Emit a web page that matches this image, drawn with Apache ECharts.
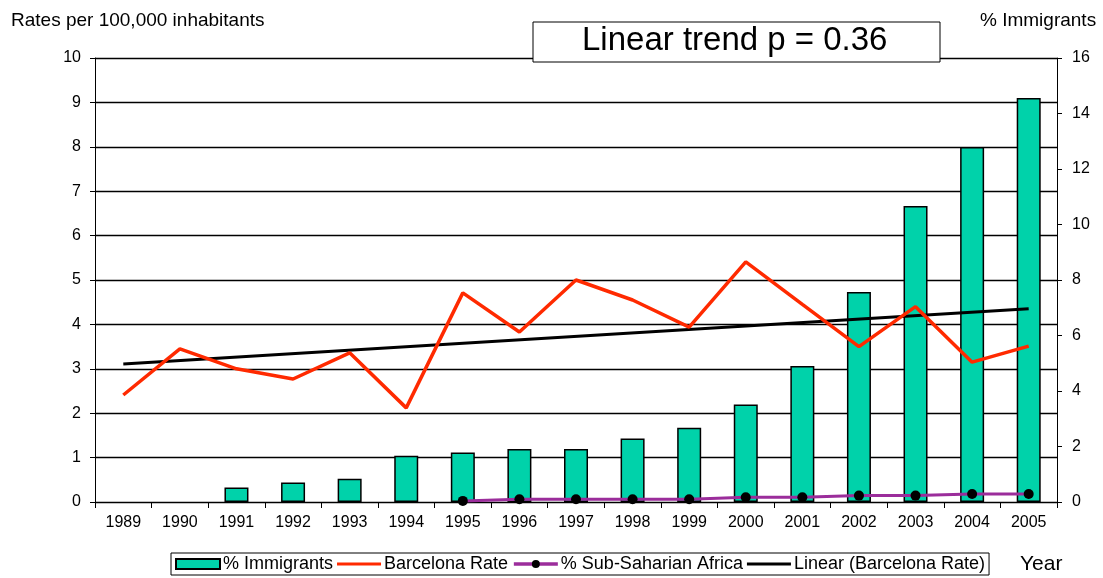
<!DOCTYPE html>
<html><head><meta charset="utf-8">
<script src="https://cdn.jsdelivr.net/npm/echarts@6/dist/echarts.min.js"></script>
<style>html,body{margin:0;padding:0;background:#fff}#c{width:1103px;height:578px}</style>
</head><body><div id="c"></div>
<script>
const years = ['1989','1990','1991','1992','1993','1994','1995','1996','1997','1998','1999','2000','2001','2002','2003','2004','2005'];
const immigrants = [null,null,0.52,0.70,0.84,1.67,1.78,1.91,1.91,2.29,2.68,3.51,4.90,7.57,10.67,12.79,14.56];
const barcelonaRate = [2.41,3.45,3.00,2.77,3.36,2.12,4.71,3.83,5.00,4.55,3.94,5.41,4.45,3.50,4.40,3.15,3.51];
const subSaharan = [null,null,null,null,null,null,0.04,0.10,0.10,0.10,0.10,0.17,0.17,0.23,0.23,0.29,0.29];
const linearTrend = [3.11,null,null,null,null,null,null,null,null,null,null,null,null,null,null,null,4.35];
const leftTicks = {min:0,max:10,interval:1};
const rightTicks = {min:0,max:16,interval:2};

const chart = echarts.init(document.getElementById('c'));
const font = 'Liberation Sans, Arial, sans-serif';
const lineIcon = 'path://M0,0 L0.01,0 M0,3.5 L44,3.5 L44,6.5 L0,6.5 Z M44,10 L43.99,10';
chart.setOption({
  animation:false,
  textStyle:{fontFamily:font},
  grid:{left:95,right:46,top:58,bottom:76,containLabel:false},
  legend:{
    left:171, top:553, padding:[2,4,2,4], itemGap:4, itemWidth:44, itemHeight:10,
    borderColor:'#000', borderWidth:1, backgroundColor:'#fff',
    textStyle:{fontSize:18,color:'#000',fontFamily:font,padding:[0,0,0,-2]},
    data:[
      {name:'% Immigrants', icon:'rect'},
      {name:'Barcelona Rate', icon:lineIcon, itemStyle:{color:'#ff2a00'}},
      {name:'% Sub-Saharian Africa', lineStyle:{width:3.5}},
      {name:'Linear (Barcelona Rate)', icon:lineIcon, itemStyle:{color:'#000'}}
    ]
  },
  graphic:[
    {type:'rect',shape:{x:533,y:22,width:407,height:40},style:{fill:'#fff',stroke:'#000',lineWidth:1},z:100},
    {type:'text',left:582,top:24,style:{text:'Linear trend p = 0.36',fontSize:33,fontFamily:font,fill:'#000'},z:101},
    {type:'text',left:11,top:11,style:{text:'Rates per 100,000 inhabitants',fontSize:19,fontFamily:font,fill:'#000'}},
    {type:'text',left:980,top:11,style:{text:'% Immigrants',fontSize:19,fontFamily:font,fill:'#000'}},
    {type:'text',left:1020,top:554,style:{text:'Year',fontSize:21,fontFamily:font,fill:'#000'}}
  ],
  xAxis:{
    type:'category', data:years, boundaryGap:true,
    axisLine:{lineStyle:{color:'#000',width:1}},
    axisTick:{show:true,alignWithLabel:false,length:6,lineStyle:{color:'#000'}},
    axisLabel:{color:'#000',fontSize:16,margin:13,fontFamily:font}
  },
  yAxis:[
    {type:'value',min:leftTicks.min,max:leftTicks.max,interval:leftTicks.interval,
     axisLine:{show:true,lineStyle:{color:'#000'}},
     axisTick:{show:true,length:5,lineStyle:{color:'#000'}},
     axisLabel:{color:'#000',fontSize:16,margin:14,fontFamily:font},
     splitLine:{show:true,lineStyle:{color:'#000',width:1.3}}},
    {type:'value',min:rightTicks.min,max:rightTicks.max,interval:rightTicks.interval,position:'right',
     axisLine:{show:true,lineStyle:{color:'#000'}},
     axisTick:{show:true,length:5,lineStyle:{color:'#000'}},
     axisLabel:{color:'#000',fontSize:16,margin:15,fontFamily:font},
     splitLine:{show:false}}
  ],
  series:[
    {name:'% Immigrants',type:'bar',yAxisIndex:1,data:immigrants,barWidth:24,
     itemStyle:{color:'#00d2aa',borderColor:'#000',borderWidth:1.5},z:2},
    {name:'Barcelona Rate',type:'line',yAxisIndex:0,data:barcelonaRate,symbol:'none',
     lineStyle:{color:'#ff2a00',width:3.5},itemStyle:{color:'#ff2a00'},z:4},
    {name:'% Sub-Saharian Africa',type:'line',yAxisIndex:1,data:subSaharan,symbol:'circle',symbolSize:10,
     lineStyle:{color:'#9b2d9b',width:3},itemStyle:{color:'#000'},z:5},
    {name:'Linear (Barcelona Rate)',type:'line',yAxisIndex:0,data:linearTrend,connectNulls:true,symbol:'none',
     lineStyle:{color:'#000',width:3},itemStyle:{color:'#000'},z:3}
  ]
});
</script></body></html>
